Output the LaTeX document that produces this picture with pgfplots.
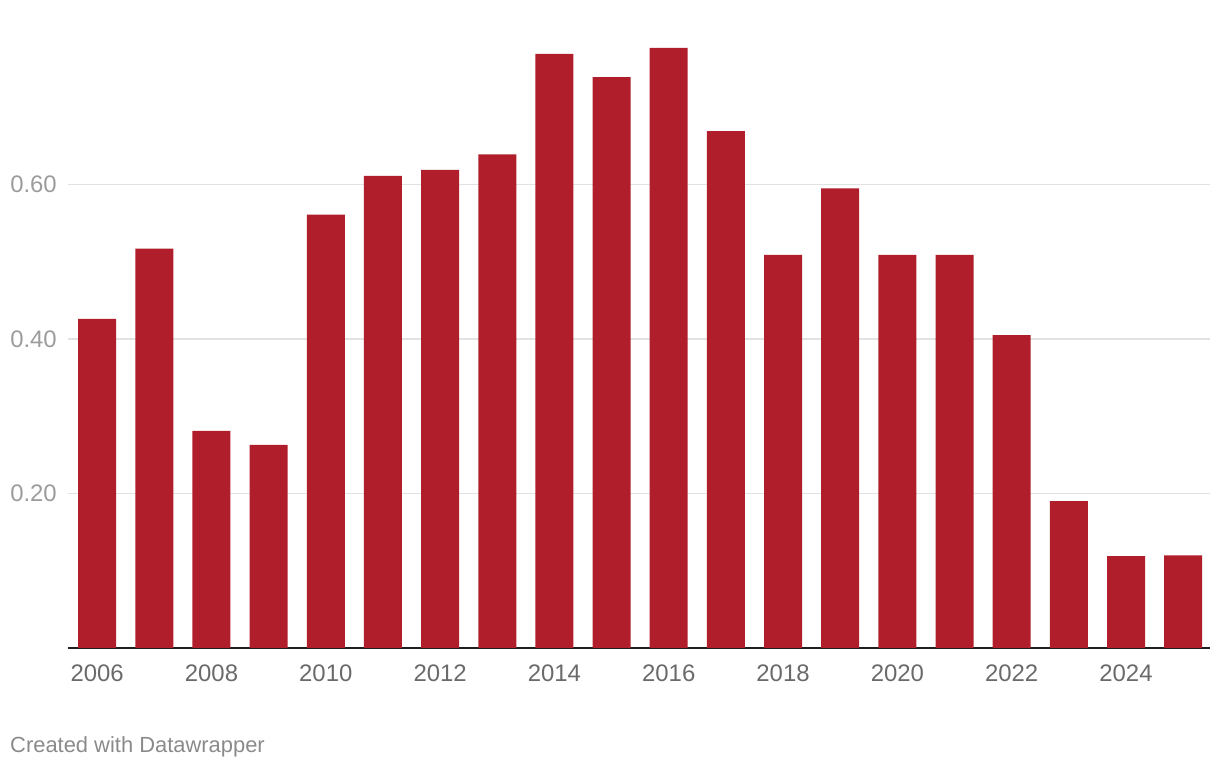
\documentclass[border=0pt]{standalone}
\usepackage{fontspec}
\setmainfont{Liberation Sans}
\usepackage{pgfplots}
\pgfplotsset{compat=1.18}
\definecolor{barred}{HTML}{B01E2B}
\definecolor{ylab}{HTML}{9C9C9C}
\definecolor{xlab}{HTML}{6A6A6A}
\definecolor{gridc}{HTML}{E2E2E2}
\definecolor{credit}{HTML}{8A8A8A}
\begin{document}
\begin{tikzpicture}
\useasboundingbox (0,0) rectangle (1220bp,770bp);
\begin{axis}[
  at={(68bp,122bp)}, anchor=south west,
  scale only axis, width=1142bp, height=618bp,
  xmin=2005.49, xmax=2025.47, ymin=0, ymax=0.8,
  axis x line*=bottom, axis y line*=left,
  x axis line style={-, line width=2bp, color=black!88},
  y axis line style={draw=none},
  major tick length=0,
  xtick={2006,2008,...,2024},
  xticklabels={2006,2008,2010,2012,2014,2016,2018,2020,2022,2024},
  ytick={0.2,0.4,0.6},
  yticklabels={0.20,0.40,0.60},
  ymajorgrids, major grid style={gridc, line width=1.6bp},
  /pgf/number format/assume math mode=true,
  xticklabel style={font=\fontsize{24}{24}\selectfont, text=xlab, anchor=north, inner sep=0pt, yshift=-17bp},
  yticklabel style={font=\fontsize{24}{24}\selectfont, text=ylab, anchor=east, inner sep=0pt, xshift=-11bp},
  ybar, bar width=38bp,
]
\addplot[fill=barred, draw=none] coordinates {
(2006,0.426) (2007,0.517) (2008,0.281) (2009,0.263) (2010,0.561)
(2011,0.611) (2012,0.619) (2013,0.639) (2014,0.769) (2015,0.739)
(2016,0.777) (2017,0.669) (2018,0.509) (2019,0.595) (2020,0.509)
(2021,0.509) (2022,0.405) (2023,0.190) (2024,0.119) (2025,0.120)
};
\end{axis}
\node[anchor=west, inner sep=0pt, text=credit, font=\fontsize{22}{22}\selectfont] at (10bp,23bp) {Created with Datawrapper};
\end{tikzpicture}
\end{document}
